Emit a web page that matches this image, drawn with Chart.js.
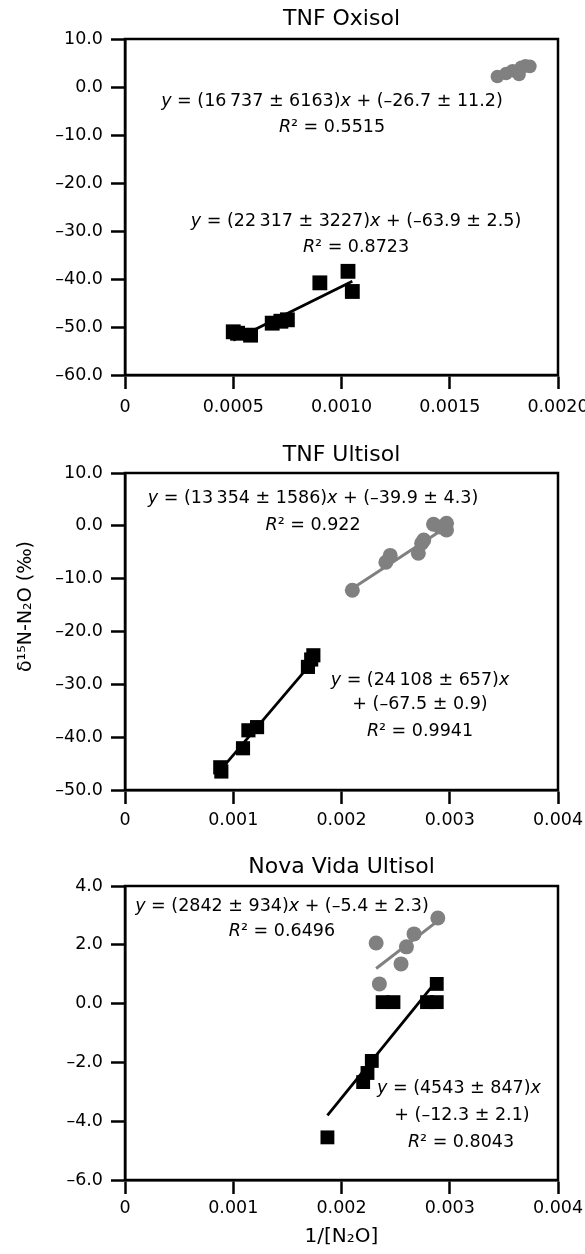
<!DOCTYPE html>
<html><head><meta charset="utf-8">
<script src="https://cdn.jsdelivr.net/npm/chart.js@4"></script>
<style>
html,body{margin:0;padding:0;background:#fff;overflow:hidden;width:585px;height:1254px;position:relative}
canvas{position:absolute;left:0}
</style></head><body>
<canvas id="c1" width="600" height="420" style="top:0px"></canvas>
<canvas id="c2" width="600" height="425" style="top:420px"></canvas>
<canvas id="c3" width="600" height="409" style="top:845px"></canvas>
<script>
// ---------- data ----------
const titles = ['TNF Oxisol', 'TNF Ultisol', 'Nova Vida Ultisol'];

// Panel 1: TNF Oxisol
const oxBlackX = [0.00050, 0.00052, 0.00058, 0.00068, 0.00072, 0.00075, 0.00090, 0.00103, 0.00105];
const oxBlackY = [-51.0, -51.3, -51.7, -49.2, -48.8, -48.5, -40.8, -38.4, -42.6];
const oxGrayX = [0.00172, 0.00176, 0.00179, 0.00182, 0.00183, 0.00185, 0.00187];
const oxGrayY = [2.2, 2.8, 3.4, 2.6, 4.1, 4.4, 4.3];
const oxFitBlack = [22317, -63.9];
const oxFitGray = [16737, -26.7];
const oxXTicks = [0, 0.0005, 0.0010, 0.0015, 0.0020];
const oxXLabels = ['0', '0.0005', '0.0010', '0.0015', '0.0020'];
const oxYTicks = [-60, -50, -40, -30, -20, -10, 0, 10];
const oxYLabels = ['–60.0', '–50.0', '–40.0', '–30.0', '–20.0', '–10.0', '0.0', '10.0'];
const oxAnnX = [0.000956, 0.000956, 0.001067, 0.001067];
const oxAnnY = [-3.1, -8.5, -28.1, -33.5];
const oxAnnText = ['*y* = (16\u2009737 ± 6163)*x* + (–26.7 ± 11.2)', '*R*² = 0.5515',
                   '*y* = (22\u2009317 ± 3227)*x* + (–63.9 ± 2.5)', '*R*² = 0.8723'];

// Panel 2: TNF Ultisol
const ulBlackX = [0.00088, 0.00089, 0.00109, 0.00114, 0.00122, 0.00169, 0.00172, 0.00174];
const ulBlackY = [-45.7, -46.5, -42.1, -38.7, -38.1, -26.7, -25.3, -24.5];
const ulGrayX = [0.00210, 0.00241, 0.00245, 0.00271, 0.00274, 0.00276, 0.00285, 0.00291, 0.00297, 0.00297];
const ulGrayY = [-12.2, -6.9, -5.6, -5.2, -3.3, -2.7, 0.3, -0.2, 0.5, -0.8];
const ulFitBlack = [24108, -67.5];
const ulFitGray = [13354, -39.9];
const ulXTicks = [0, 0.001, 0.002, 0.003, 0.004];
const ulXLabels = ['0', '0.001', '0.002', '0.003', '0.004'];
const ulYTicks = [-50, -40, -30, -20, -10, 0, 10];
const ulYLabels = ['–50.0', '–40.0', '–30.0', '–20.0', '–10.0', '0.0', '10.0'];
const ulAnnX = [0.001737, 0.001737, 0.002725, 0.002725, 0.002725];
const ulAnnY = [5.27, 0.15, -29.2, -33.9, -38.9];
const ulAnnText = ['*y* = (13\u2009354 ± 1586)*x* + (–39.9 ± 4.3)', '*R*² = 0.922',
                   '*y* = (24\u2009108 ± 657)*x*', '+ (–67.5 ± 0.9)', '*R*² = 0.9941'];

// Panel 3: Nova Vida Ultisol
const nvBlackX = [0.00187, 0.00220, 0.00224, 0.00228, 0.00238, 0.00248, 0.00279, 0.00288, 0.00288];
const nvBlackY = [-4.55, -2.67, -2.36, -1.95, 0.05, 0.05, 0.05, 0.05, 0.67];
const nvGrayX = [0.00232, 0.00235, 0.00255, 0.00260, 0.00267, 0.00289];
const nvGrayY = [2.06, 0.67, 1.35, 1.93, 2.37, 2.91];
const nvFitBlack = [4543, -12.3];
const nvFitGray = [2842, -5.4];
const nvXTicks = [0, 0.001, 0.002, 0.003, 0.004];
const nvXLabels = ['0', '0.001', '0.002', '0.003', '0.004'];
const nvYTicks = [-6, -4, -2, 0, 2, 4];
const nvYLabels = ['–6.0', '–4.0', '–2.0', '0.0', '2.0', '4.0'];
const nvAnnX = [0.00145, 0.00145, 0.003085, 0.003113, 0.003104];
const nvAnnY = [3.32, 2.44, -2.90, -3.79, -4.71];
const nvAnnText = ['*y* = (2842 ± 934)*x* + (–5.4 ± 2.3)', '*R*² = 0.6496',
                   '*y* = (4543 ± 847)*x*', '+ (–12.3 ± 2.1)', '*R*² = 0.8043'];

const yAxisTitle = 'δ¹⁵N-N₂O (‰)';
const xAxisTitle = '1/[N₂O]';

// ---------- styling ----------
const FAM = '"DejaVu Sans", sans-serif';
const GRAY = '#808080';
const BLACK = '#000000';

function pts(xs, ys) { return xs.map((x, i) => ({ x: x, y: ys[i] })); }
function fitLine(xs, fit) {
  const lo = Math.min.apply(null, xs), hi = Math.max.apply(null, xs);
  return [{ x: lo, y: fit[0] * lo + fit[1] }, { x: hi, y: fit[0] * hi + fit[1] }];
}

const overlayPlugin = {
  id: 'overlay',
  afterDraw(chart, args, o) {
    const ctx = chart.ctx, a = chart.chartArea;
    ctx.save();
    // frame
    ctx.strokeStyle = BLACK; ctx.lineWidth = 2.5;
    ctx.strokeRect(a.left, a.top, a.right - a.left, a.bottom - a.top);
    // title
    ctx.fillStyle = BLACK;
    ctx.font = '22px ' + FAM;
    ctx.textAlign = 'center'; ctx.textBaseline = 'middle';
    ctx.fillText(o.title, (a.left + a.right) / 2, o.titleY);
    // annotations
    const xs = chart.scales.x, ys = chart.scales.y;
    ctx.textAlign = 'left';
    o.annX.forEach((ax, i) => {
      const segs = o.annText[i].split('*');
      let w = 0;
      segs.forEach((s, k) => { ctx.font = (k % 2 ? 'italic ' : '') + '17.5px ' + FAM; w += ctx.measureText(s).width; });
      let px = xs.getPixelForValue(ax) - w / 2;
      const py = ys.getPixelForValue(o.annY[i]);
      segs.forEach((s, k) => {
        ctx.font = (k % 2 ? 'italic ' : '') + '17.5px ' + FAM;
        ctx.fillText(s, px, py);
        px += ctx.measureText(s).width;
      });
    });
    // y title
    if (o.yTitle) {
      ctx.translate(26, (a.top + a.bottom) / 2 - 25);
      ctx.rotate(-Math.PI / 2);
      ctx.font = '19px ' + FAM;
      ctx.textAlign = 'center';
      ctx.fillText(o.yTitle, 0, 0);
    }
    ctx.restore();
  }
};

function makeChart(id, c) {
  const ctx = document.getElementById(id);
  return new Chart(ctx, {
    type: 'scatter',
    data: {
      datasets: [
        { type: 'scatter', data: pts(c.bx, c.by), pointStyle: 'rect', pointRadius: c.sqR, backgroundColor: BLACK, borderColor: BLACK, borderWidth: 0, order: 0 },
        { type: 'scatter', data: pts(c.gx, c.gy), pointStyle: 'circle', pointRadius: c.cR, backgroundColor: GRAY, borderColor: GRAY, borderWidth: 0, order: 0 },
        { type: 'line', data: fitLine(c.bx, c.fb), borderColor: BLACK, borderWidth: 2.8, pointRadius: 0, showLine: true, fill: false, order: 1 },
        { type: 'line', data: fitLine(c.gx, c.fg), borderColor: GRAY, borderWidth: 3, pointRadius: 0, showLine: true, fill: false, order: 1 }
      ]
    },
    options: {
      responsive: false, animation: false, devicePixelRatio: 1,
      layout: { padding: { left: 0, right: 42, top: c.padTop, bottom: 0 } },
      plugins: {
        legend: { display: false }, tooltip: { enabled: false }, title: { display: false },
        overlay: { title: c.title, titleY: c.titleY, annX: c.annX, annY: c.annY, annText: c.annText, yTitle: c.yTitle }
      },
      scales: {
        x: {
          type: 'linear', position: 'bottom', min: c.xTicks[0], max: c.xTicks[c.xTicks.length - 1],
          afterBuildTicks: s => { s.ticks = c.xTicks.map(v => ({ value: v })); },
          afterFit: s => { s.height = c.xAxisH; },
          ticks: { callback: (v, i) => c.xLabels[i], font: { family: FAM, size: 17.5 }, color: BLACK, padding: c.xLabPad, maxRotation: 0, autoSkip: false },
          grid: { display: true, drawOnChartArea: false, drawTicks: true, tickLength: 14, tickWidth: 2.5, tickColor: BLACK },
          border: { display: true, color: BLACK, width: 2.5 },
          title: c.xTitle ? { display: true, text: c.xTitle, font: { family: FAM, size: 20 }, color: BLACK, padding: { top: 0, bottom: c.xTitlePad } } : { display: false }
        },
        y: {
          type: 'linear', position: 'left', min: c.yTicks[0], max: c.yTicks[c.yTicks.length - 1],
          afterBuildTicks: s => { s.ticks = c.yTicks.map(v => ({ value: v })); },
          afterFit: s => { s.width = 125; },
          ticks: { callback: (v, i) => c.yLabels[i], font: { family: FAM, size: 17.5 }, color: BLACK, padding: 8, autoSkip: false },
          grid: { display: true, drawOnChartArea: false, drawTicks: true, tickLength: 14, tickWidth: 2.5, tickColor: BLACK },
          border: { display: true, color: BLACK, width: 2.5 }
        }
      }
    },
    plugins: [overlayPlugin]
  });
}

makeChart('c1', {
  title: titles[0], titleY: 19, padTop: 39, xAxisH: 45, xLabPad: 8, sqR: 10.5, cR: 6.8,
  bx: oxBlackX, by: oxBlackY, gx: oxGrayX, gy: oxGrayY, fb: oxFitBlack, fg: oxFitGray,
  xTicks: oxXTicks, xLabels: oxXLabels, yTicks: oxYTicks, yLabels: oxYLabels,
  annX: oxAnnX, annY: oxAnnY, annText: oxAnnText
});
makeChart('c2', {
  title: titles[1], titleY: 35, padTop: 53, xAxisH: 55, xLabPad: 5.5, sqR: 10, cR: 7.5,
  bx: ulBlackX, by: ulBlackY, gx: ulGrayX, gy: ulGrayY, fb: ulFitBlack, fg: ulFitGray,
  xTicks: ulXTicks, xLabels: ulXLabels, yTicks: ulYTicks, yLabels: ulYLabels,
  annX: ulAnnX, annY: ulAnnY, annText: ulAnnText, yTitle: yAxisTitle
});
makeChart('c3', {
  title: titles[2], titleY: 22, padTop: 41, xAxisH: 74, xLabPad: 3.5, sqR: 9.8, cR: 7.5,
  bx: nvBlackX, by: nvBlackY, gx: nvGrayX, gy: nvGrayY, fb: nvFitBlack, fg: nvFitGray,
  xTicks: nvXTicks, xLabels: nvXLabels, yTicks: nvYTicks, yLabels: nvYLabels,
  annX: nvAnnX, annY: nvAnnY, annText: nvAnnText, xTitle: xAxisTitle, xTitlePad: 5.6
});
</script>
</body></html>
